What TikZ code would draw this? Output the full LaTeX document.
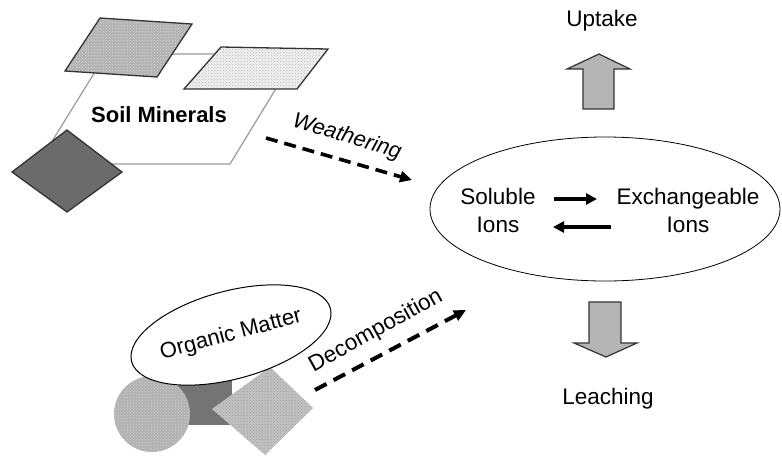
\documentclass[tikz,border=0pt]{standalone}
\usepackage{fontspec}
\setmainfont{Liberation Sans}
\usetikzlibrary{arrows.meta,patterns,shapes.geometric}

\definecolor{edge}{HTML}{333333}
\definecolor{frame}{HTML}{9A9A9A}
\definecolor{blockfill}{HTML}{B5B5B5}
\definecolor{darkgrain}{HTML}{6B6B6B}
\definecolor{darkbar}{HTML}{747474}

\begin{document}
\begin{tikzpicture}[x=1pt,y=-1pt,
  lbl/.style={font=\fontsize{22.5}{26}\selectfont, inner sep=0pt},
  flowarrow/.style={line width=4pt, dash pattern=on 13pt off 8pt,
    -{Triangle[length=12pt,width=11pt]}},
  swaparrow/.style={line width=3.6pt, -{Triangle[length=11pt,width=11pt]}},
  blockarrow/.style={draw=edge, line width=1.2pt, fill=blockfill, line join=miter},
  grain/.style={draw=edge, line width=1.3pt},
]
\useasboundingbox (0,0) rectangle (782,456);

% ---------- soil minerals ----------
\draw[frame, line width=1.2pt] (106,54) -- (297,54) -- (230,164) -- (38,164) -- cycle;
\path[grain, preaction={fill=black!30}, pattern=crosshatch dots, pattern color=white!85!black]
  (100,18) -- (192,24) -- (157,77) -- (65,71) -- cycle;
\path[grain, preaction={fill=black!6}, pattern=crosshatch dots, pattern color=black!28]
  (221,47) -- (328,49) -- (297,89) -- (184,89) -- cycle;
\path[grain, fill=darkgrain] (12,172) -- (67,130) -- (122,172) -- (67,212) -- cycle;
\node[lbl, font=\fontsize{22}{26}\selectfont\bfseries, anchor=base] (soil) at (159,122) {Soil Minerals};

% ---------- organic matter ----------
\fill[darkbar] (178,378) rectangle (232,425);
\path[preaction={fill=black!30}, pattern=crosshatch dots, pattern color=white!80!black]
  (152,414) circle [radius=38];
\path[preaction={fill=black!24}, pattern=crosshatch dots, pattern color=black!38]
  (212,409) -- (270,367) -- (313,408) -- (265,455) -- cycle;
\node[draw=black, line width=1pt, fill=white, ellipse, inner sep=0pt,
  minimum width=204pt, minimum height=88pt, rotate=15,
  font=\fontsize{22}{26}\selectfont] (om) at (231,335) {Organic Matter};

% ---------- ion pool ----------
\node[draw=black, line width=0.8pt, ellipse, minimum width=350pt, minimum height=144pt]
  (pool) at (605,209) {};
% the base anchor of a two-line node sits on its last line
\node[lbl, anchor=base, align=center] (sol) at (498,232) {Soluble\\[2pt]Ions};
\node[lbl, anchor=base, align=center] (exch) at (688,232) {Exchangeable\\[2pt]Ions};
\coordinate (fwdA) at (554,199);
\coordinate (fwdB) at (597,199);
\coordinate (backA) at (611,227);
\coordinate (backB) at (553,227);
\draw[swaparrow] (fwdA) -- (fwdB);
\draw[swaparrow] (backA) -- (backB);

% ---------- inputs ----------
\coordinate (wStart) at (266,138);
\coordinate (wEnd) at (412,180);
\draw[flowarrow, line width=3.6pt, dash pattern=on 12pt off 7pt] (wStart) -- (wEnd);
\node[lbl, font=\fontsize{22}{26}\selectfont\itshape, rotate=-17] (wlab) at (347,137) {Weathering};

\coordinate (dStart) at (315,390);
\coordinate (dEnd) at (466,310);
\draw[flowarrow] (dStart) -- (dEnd);
\node[lbl, rotate=29] (dlab) at (376,331) {Decomposition};

% ---------- outputs ----------
\path[blockarrow] (599,54) -- (630,69) -- (614,69) -- (614,109) -- (583,109) -- (583,69) -- (567,69) -- cycle;
\node[lbl, anchor=base] (uptake) at (602,26) {Uptake};

\path[blockarrow] (589,302) -- (621,302) -- (621,343) -- (637,343) -- (606,357) -- (574,343) -- (589,343) -- cycle;
\node[lbl, anchor=base] (leach) at (608,404) {Leaching};
\end{tikzpicture}
\end{document}
